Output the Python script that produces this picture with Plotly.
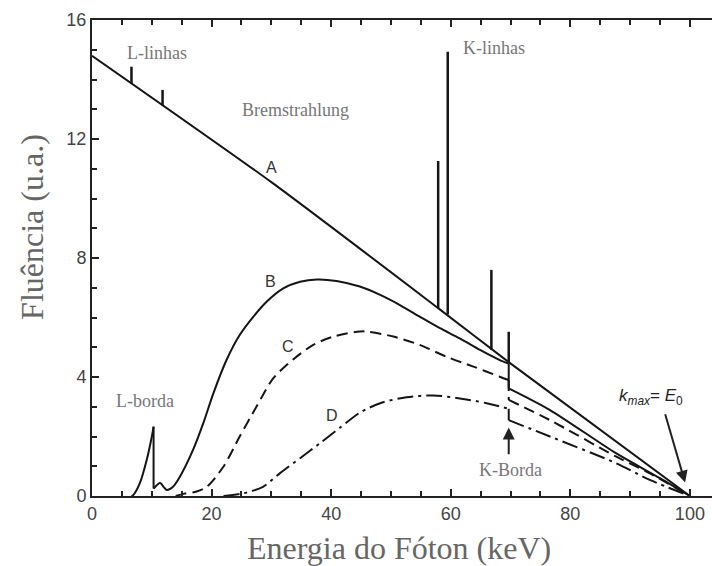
import plotly.graph_objects as go

# ---- data ----
energy_A = [0, 30.0, 58.0, 69.7, 100]
fluence_A = [14.8, 10.55, 6.3, 4.5, 0.0]

# characteristic lines (L and K) drawn on top of the unfiltered spectrum A
line_energy = [6.6, 11.8, 57.9, 59.5, 66.8, 69.7]
line_base = [13.85, 13.12, 6.31, 6.1, 4.91, 4.5]
line_top = [14.43, 13.65, 11.26, 14.93, 7.6, 5.52]

energy_B = [6.6, 6.9, 8.0, 9.15, 10.0, 10.3, 10.3, 11.4, 12.0, 12.5, 13.5, 14.7, 16.9,
            18.6, 20.3, 22.5, 24.7, 27.0, 29.2, 32.0, 34.8, 37.6, 40.9, 44.8, 48.2,
            51.5, 54.8, 58.2, 61.5, 64.9, 68.2, 69.7, 69.7, 76.6, 87.7, 95.0, 100.0]
fluence_B = [0.0, 0.03, 0.43, 1.21, 1.99, 2.33, 0.25, 0.44, 0.3, 0.2, 0.3, 0.65, 1.55,
             2.44, 3.45, 4.57, 5.41, 6.03, 6.53, 6.98, 7.2, 7.28, 7.23, 7.04, 6.76,
             6.42, 6.03, 5.64, 5.3, 4.91, 4.57, 4.45, 3.62, 2.89, 1.43, 0.6, 0.0]

energy_C = [14.0, 15.5, 17.5, 19.2, 22.0, 24.7, 27.5, 30.3, 33.7, 37.0, 40.4, 44.3,
            45.9, 50.4, 54.8, 59.3, 63.8, 68.2, 69.7, 69.7, 76.6, 87.7, 93.3, 100.0]
fluence_C = [0.0, 0.08, 0.15, 0.31, 0.99, 2.0, 3.0, 3.95, 4.6, 5.08, 5.36, 5.52,
             5.53, 5.36, 5.08, 4.68, 4.35, 4.01, 3.9, 3.23, 2.55, 1.32, 0.76, 0.0]

energy_D = [22.0, 25.3, 28.6, 31.4, 34.8, 38.1, 41.5, 44.8, 48.2, 52.6, 57.1, 61.5,
            66.0, 69.7, 69.7, 76.6, 87.7, 93.3, 100.0]
fluence_D = [0.0, 0.09, 0.31, 0.76, 1.27, 1.77, 2.3, 2.8, 3.12, 3.32, 3.38, 3.28,
             3.12, 2.93, 2.55, 2.0, 1.1, 0.54, 0.0]

x_ticks = [0, 20, 40, 60, 80, 100]
y_ticks = [0, 4, 8, 12, 16]

LINE = "#151515"


def split_edges(xs, ys):
    """Break a curve at its absorption edges (repeated energies) so that the
    smooth parts can be splined and the edge stays a vertical step."""
    ox, oy = [xs[0]], [ys[0]]
    for i in range(1, len(xs)):
        if xs[i] == xs[i - 1]:
            ox += [None, xs[i - 1], xs[i], None, xs[i]]
            oy += [None, ys[i - 1], ys[i], None, ys[i]]
        else:
            ox.append(xs[i])
            oy.append(ys[i])
    return ox, oy


spike_x, spike_y = [], []
for e, b, t in zip(line_energy, line_base, line_top):
    spike_x += [e, e, None]
    spike_y += [b, t, None]

fig = go.Figure()
fig.add_trace(go.Scatter(x=energy_A, y=fluence_A, mode="lines",
                         line=dict(color=LINE, width=2, shape="spline", smoothing=0.6), name="A"))
fig.add_trace(go.Scatter(x=spike_x, y=spike_y, mode="lines",
                         line=dict(color=LINE, width=2.5), name="linhas"))
for xs, ys, dash, nm in [(energy_B, fluence_B, "solid", "B"),
                         (energy_C, fluence_C, "11px,6px", "C"),
                         (energy_D, fluence_D, "16px,5px,3px,5px", "D")]:
    sx, sy = split_edges(xs, ys)
    fig.add_trace(go.Scatter(x=sx, y=sy, mode="lines", connectgaps=False,
                             line=dict(color=LINE, width=2, dash=dash,
                                       shape="spline", smoothing=0.8), name=nm))

serif = "Liberation Serif, Times New Roman, serif"
sans = "Liberation Sans, Arial, sans-serif"

ann = []
def label(x, y, text, size=18, color="#777", family=serif):
    ann.append(dict(x=x, y=y, xref="x", yref="y", text=text, showarrow=False,
                    font=dict(family=family, size=size, color=color)))

label(10.9, 14.9, "L-linhas")
label(34.1, 12.97, "Bremstrahlung")
label(67.2, 15.06, "K-linhas")
label(8.9, 3.2, "L-borda")
label(70.0, 0.87, "K-Borda")
label(30.0, 11.03, "A", size=16, color="#333", family=sans)
label(29.8, 7.2, "B", size=16, color="#333", family=sans)
label(32.8, 5.02, "C", size=16, color="#333", family=sans)
label(40.1, 2.72, "D", size=16, color="#333", family=sans)
ann.append(dict(x=93.5, y=3.33, xref="x", yref="y", showarrow=False,
                text="<i>k</i><sub><i>max</i></sub>= <i>E</i><sub>0</sub>",
                font=dict(family=sans, size=17, color="#222")))
# arrows
ann.append(dict(x=99.2, y=0.45, ax=95.8, ay=2.8, xref="x", yref="y", axref="x", ayref="y",
                text="", showarrow=True, arrowhead=2, arrowsize=1.2, arrowwidth=2,
                arrowcolor="#222"))
ann.append(dict(x=69.7, y=2.3, ax=69.7, ay=1.35, xref="x", yref="y", axref="x", ayref="y",
                text="", showarrow=True, arrowhead=2, arrowsize=1.2, arrowwidth=2,
                arrowcolor="#222"))
# axis titles
ann.append(dict(x=-0.097, y=0.565, xref="paper", yref="paper", showarrow=False,
                text="Fluência (u.a.)", textangle=-90, xanchor="center", yanchor="middle",
                font=dict(family=serif, size=32, color="#666")))
ann.append(dict(x=0.495, y=-0.109, xref="paper", yref="paper", showarrow=False,
                text="Energia do Fóton (keV)", xanchor="center", yanchor="middle",
                font=dict(family=serif, size=32, color="#666")))

fig.update_layout(
    width=712, height=566,
    margin=dict(l=92, r=0, t=20, b=70),
    paper_bgcolor="white", plot_bgcolor="white",
    showlegend=False,
    annotations=ann,
    xaxis=dict(range=[0, 103.7], tickvals=x_ticks, ticks="inside", ticklen=7, tickwidth=2,
               tickcolor="#222", showline=True, linecolor="#222", linewidth=2,
               mirror="ticks", showgrid=False, zeroline=False,
               minor=dict(dtick=5, ticks="inside", ticklen=5, tickwidth=1.5, tickcolor="#222"),
               tickfont=dict(family=sans, size=18, color="#444")),
    yaxis=dict(range=[0, 16], tickvals=y_ticks, ticks="inside", ticklen=7, tickwidth=2,
               tickcolor="#222", showline=True, linecolor="#222", linewidth=2,
               mirror=False, showgrid=False, zeroline=False,
               minor=dict(dtick=1, ticks="inside", ticklen=5, tickwidth=1.5, tickcolor="#222"),
               tickfont=dict(family=sans, size=18, color="#444")),
)

fig.write_html("out.html")
